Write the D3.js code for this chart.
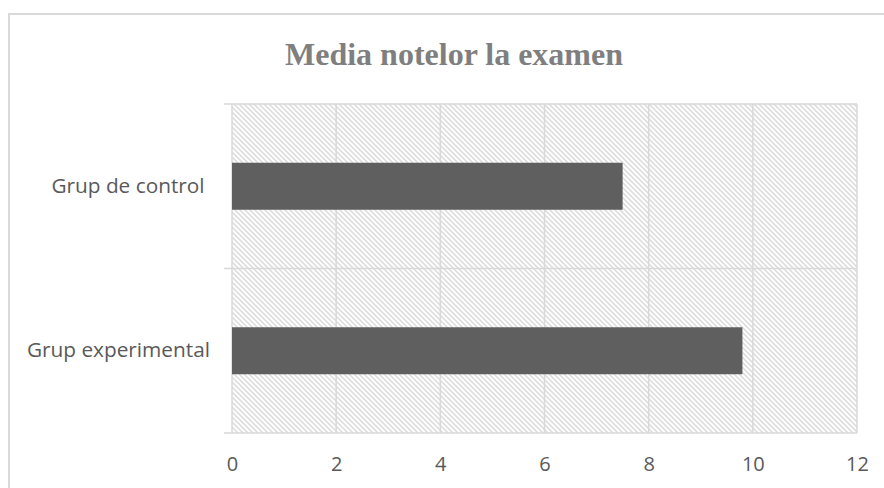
<!DOCTYPE html>
<html>
<head>
<meta charset="utf-8">
<script src="https://cdn.jsdelivr.net/npm/d3@7"></script>
<style>
  html, body { margin: 0; padding: 0; background: #fff; }
  svg { display: block; }
  .cat text { white-space: pre; }
</style>
</head>
<body>
<svg id="chart" width="884" height="488"></svg>
<script>
// Average exam grade per group
const title = "Media notelor la examen";
const categories = ["Grup de control ", "Grup experimental"];
const values = [7.5, 9.8];
const xTicks = [0, 2, 4, 6, 8, 10, 12];

const W = 884, H = 488;
const plot = { left: 232, right: 857, top: 104, bottom: 433 };

const svg = d3.select("#chart");

// Diagonal hatch fill for the plot area
const defs = svg.append("defs");
const pat = defs.append("pattern")
  .attr("id", "hatch")
  .attr("patternUnits", "userSpaceOnUse")
  .attr("width", 5)
  .attr("height", 5);
pat.append("rect").attr("width", 5).attr("height", 5).attr("fill", "#ffffff");
pat.append("path")
  .attr("d", "M-1,4 l2,2 M0,0 l5,5 M4,-1 l2,2")
  .attr("stroke", "#dedede")
  .attr("stroke-width", 1.6);

// Chart area border (extends past the frame on right and bottom)
svg.append("rect")
  .attr("x", 9).attr("y", 14)
  .attr("width", 890).attr("height", 500)
  .attr("fill", "#fff")
  .attr("stroke", "#d9d9d9")
  .attr("stroke-width", 2);

const x = d3.scaleLinear().domain([0, 12]).range([plot.left, plot.right]);
const y = d3.scaleBand()
  .domain(categories)
  .range([plot.top, plot.bottom])
  .paddingInner(1 - 1 / 3.5)
  .paddingOuter((1 - 1 / 3.5) / 2);

// Plot background
svg.append("rect")
  .attr("x", plot.left).attr("y", plot.top)
  .attr("width", plot.right - plot.left)
  .attr("height", plot.bottom - plot.top)
  .attr("fill", "url(#hatch)");

const gridColor = "#d9d9d9";

// Vertical gridlines at each value tick
svg.append("g")
  .selectAll("line")
  .data(xTicks)
  .join("line")
  .attr("x1", d => x(d)).attr("x2", d => x(d))
  .attr("y1", plot.top).attr("y2", plot.bottom)
  .attr("stroke", gridColor)
  .attr("stroke-width", 1.5);

// Horizontal lines at category boundaries, with outward tick marks
const gap = (y.step() - y.bandwidth()) / 2;
const edges = categories.map(c => y(c) - gap).concat([y(categories[categories.length - 1]) + y.bandwidth() + gap]);
svg.append("g")
  .selectAll("line")
  .data(edges)
  .join("line")
  .attr("x1", plot.left - 8).attr("x2", x(12))
  .attr("y1", d => d).attr("y2", d => d)
  .attr("stroke", gridColor)
  .attr("stroke-width", 1.5);

// Bars
svg.append("g")
  .selectAll("rect")
  .data(categories)
  .join("rect")
  .attr("x", x(0))
  .attr("y", d => y(d))
  .attr("width", (d, i) => x(values[i]) - x(0))
  .attr("height", y.bandwidth())
  .attr("fill", "#5f5f5f");

// X axis labels
const xAxis = d3.axisBottom(x).tickValues(xTicks).tickSize(0).tickPadding(24);
const gx = svg.append("g")
  .attr("transform", `translate(0,${plot.bottom})`)
  .call(xAxis);
gx.select(".domain").remove();
gx.selectAll("text")
  .attr("font-family", "'Open Sans', sans-serif")
  .attr("font-size", 20)
  .attr("fill", "#595959");

// Category labels
const yAxis = d3.axisLeft(y).tickSize(0).tickPadding(22);
const gy = svg.append("g")
  .attr("class", "cat")
  .attr("transform", `translate(${plot.left},0)`)
  .call(yAxis);
gy.select(".domain").remove();
gy.selectAll("text")
  .attr("font-family", "'Open Sans', sans-serif")
  .attr("font-size", 20.8)
  .attr("fill", "#595959");

// Title
svg.append("text")
  .attr("x", 454)
  .attr("y", 65)
  .attr("text-anchor", "middle")
  .attr("font-family", "'Liberation Serif', 'Times New Roman', serif")
  .attr("font-weight", "bold")
  .attr("font-size", 32)
  .attr("fill", "#7f7f7f")
  .text(title);
</script>
</body>
</html>
